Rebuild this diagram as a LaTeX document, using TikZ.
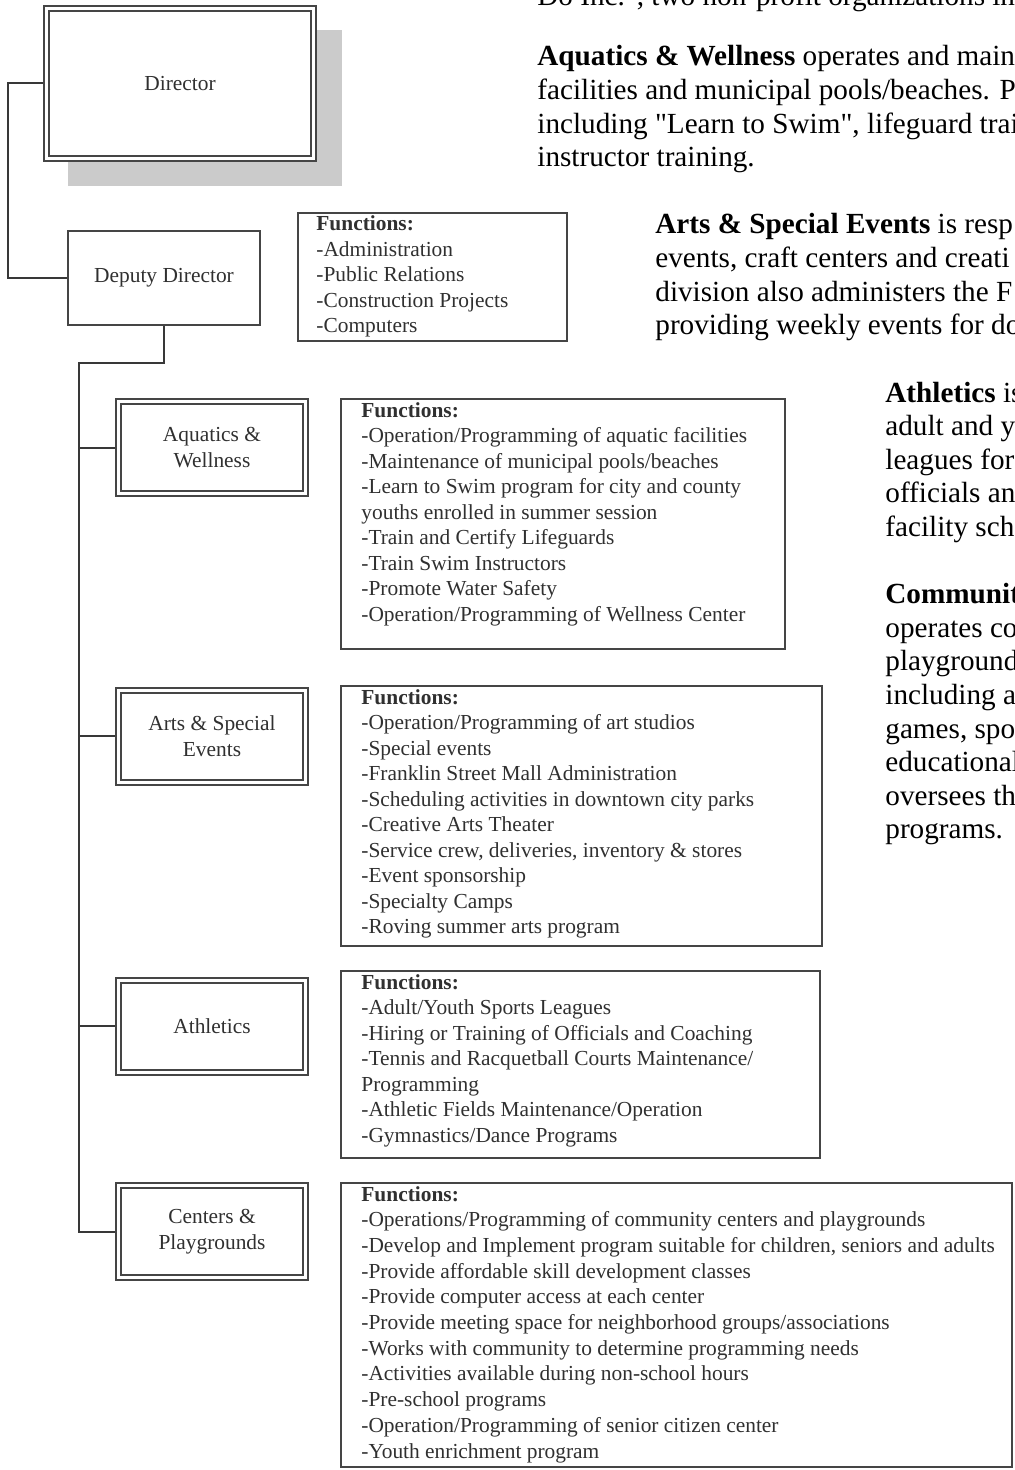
\documentclass[tikz,border=0pt]{standalone}
\usepackage{fontspec}
\setmainfont{Liberation Serif}[Ligatures=TeXOff]
\usetikzlibrary{backgrounds}
\definecolor{boxline}{HTML}{454545}
\definecolor{boxtext}{HTML}{303030}
\definecolor{shadowgray}{HTML}{CBCBCB}
\definecolor{connline}{HTML}{383838}
\newcommand{\bxfont}{\fontsize{10.7pt}{12.8pt}\selectfont}
\newcommand{\rtfont}{\fontsize{14.6pt}{16.8pt}\selectfont}
\begin{document}
\begin{tikzpicture}[x=0.5pt,y=-0.5pt,
  dblbox/.style={draw=boxline, line width=1pt, double=white, double distance=1.5pt,
    fill=white, inner sep=0pt, outer sep=0pt, font=\bxfont, text=boxtext, align=center},
  divbox/.style={dblbox, minimum width=93.5pt, minimum height=46pt},
  sglbox/.style={draw=boxline, line width=1pt, fill=white, inner sep=0pt, outer sep=0pt,
    font=\bxfont, text=boxtext, align=center},
  fnbox/.style={draw=boxline, line width=1pt, fill=white, inner sep=0pt, outer sep=0pt, anchor=north west},
  fline/.style={anchor=base west, inner sep=0pt, font=\bxfont, text=boxtext},
  rtext/.style={anchor=base west, inner sep=0pt, font=\rtfont, text=black},
  conn/.style={draw=connline, line width=1pt}
]
\useasboundingbox (0,0) rectangle (1014,1470);

% ---- Director with shadow
\fill[shadowgray] (68,30) rectangle (342,186);
\node[dblbox, minimum width=133.5pt, minimum height=75pt] (dir) at (180,83.5) {Director};

% ---- Deputy Director
\node[sglbox, minimum width=96pt, minimum height=47pt] (dd) at (164,278) {Deputy Director};

% ---- Divisions
\node[divbox] (aq) at (212,447.5) {Aquatics \&\\Wellness};
\node[divbox] (ar) at (212,736) {Arts \& Special\\Events};
\node[divbox] (at) at (212,1026) {Athletics};
\node[divbox] (cp) at (212,1231.5) {Centers \&\\Playgrounds};

% ---- Function boxes
\node[fnbox, minimum width=134.5pt, minimum height=64pt] (ddf) at (298,213) {};
\node[fnbox, minimum width=222pt, minimum height=125pt] (aqf) at (341,399) {};
\node[fnbox, minimum width=240.5pt, minimum height=130pt] (arf) at (341,686) {};
\node[fnbox, minimum width=239.5pt, minimum height=93.5pt] (atf) at (341,971) {};
\node[fnbox, minimum width=335.5pt, minimum height=142pt] (cpf) at (341,1183) {};

\foreach \t [count=\i from 0] in {{\textbf{Functions:}},-Administration,-Public Relations,-Construction Projects,-Computers}
  \node[fline] (ddt\i) at (316,{231+25.5*\i}) {\t};

\foreach \t [count=\i from 0] in {{\textbf{Functions:}},
  -Operation/Programming of aquatic facilities,
  -Maintenance of municipal pools/beaches,
  -Learn to Swim program for city and county,
  youths enrolled in summer session,
  -Train and Certify Lifeguards,
  -Train Swim Instructors,
  -Promote Water Safety,
  -Operation/Programming of Wellness Center}
  \node[fline] (aqt\i) at (361,{417+25.5*\i}) {\t};

\foreach \t [count=\i from 0] in {{\textbf{Functions:}},
  -Operation/Programming of art studios,
  -Special events,
  -Franklin Street Mall Administration,
  -Scheduling activities in downtown city parks,
  -Creative Arts Theater,
  {-Service crew, deliveries, inventory \& stores},
  -Event sponsorship,
  -Specialty Camps,
  -Roving summer arts program}
  \node[fline] (art\i) at (361,{704+25.5*\i}) {\t};

\foreach \t [count=\i from 0] in {{\textbf{Functions:}},
  -Adult/Youth Sports Leagues,
  -Hiring or Training of Officials and Coaching,
  -Tennis and Racquetball Courts Maintenance/,
  Programming,
  -Athletic Fields Maintenance/Operation,
  -Gymnastics/Dance Programs}
  \node[fline] (att\i) at (361,{989+25.5*\i}) {\t};

\foreach \t [count=\i from 0] in {{\textbf{Functions:}},
  -Operations/Programming of community centers and playgrounds,
  {-Develop and Implement program suitable for children, seniors and adults},
  -Provide affordable skill development classes,
  -Provide computer access at each center,
  -Provide meeting space for neighborhood groups/associations,
  -Works with community to determine programming needs,
  -Activities available during non-school hours,
  -Pre-school programs,
  -Operation/Programming of senior citizen center,
  -Youth enrichment program}
  \node[fline] (cpt\i) at (361,{1201+25.7*\i}) {\t};

% ---- Connectors (behind boxes)
\coordinate (dl) at (8,0);
\coordinate (sp) at (79,363);
\begin{pgfonlayer}{background}
  \fill[white] (0,0) rectangle (1014,1470);
  \draw[conn] (dir.west) -| (dl |- dd.west) -- (dd.west);
  \draw[conn] (dd.south) |- (sp) |- (cp.west);
  \foreach \b in {aq,ar,at}
    \draw[conn] (sp |- \b.west) -- (\b.west);
\end{pgfonlayer}

% ---- Right-hand text (cut by the page edge, as in the reference)
\node[rtext] (top0) at (537,6) {Do Inc.", two non-profit organizations in};

\foreach \t [count=\i from 0] in {{\textbf{Aquatics \& Wellness} operates and main},
  facilities and municipal pools/beaches. P,
  {including "Learn to Swim", lifeguard trai},
  instructor training.}
  \node[rtext] (pa\i) at (537,{66+33.6*\i}) {\t};

\foreach \t [count=\i from 0] in {{\textbf{Arts \& Special Events} is resp},
  {events, craft centers and creati},
  division also administers the F,
  providing weekly events for do}
  \node[rtext] (pb\i) at (655,{234+33.6*\i}) {\t};

\foreach \t [count=\i from 0] in {{\textbf{Athletics} is},
  adult and y,
  leagues for,
  officials an,
  facility sch}
  \node[rtext] (pc\i) at (885,{402+33.6*\i}) {\t};

\foreach \t [count=\i from 0] in {{\textbf{Communit}},
  operates co,
  playground,
  including a,
  {games, spo},
  educational,
  oversees th,
  programs.}
  \node[rtext] (pd\i) at (885,{603.6+33.6*\i}) {\t};
\end{tikzpicture}
\end{document}
